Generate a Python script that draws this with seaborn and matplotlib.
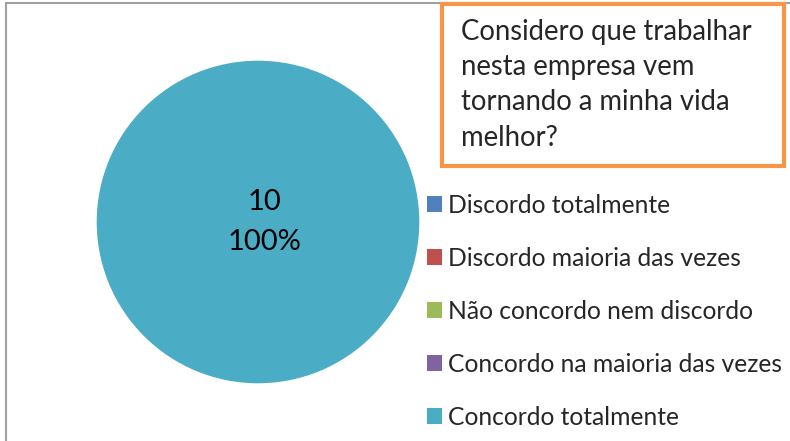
import matplotlib
matplotlib.use('Agg')
import matplotlib.pyplot as plt
import matplotlib.patches as mpatches
import seaborn as sns

# dados da pergunta
categorias = ['Discordo totalmente', 'Discordo maioria das vezes', 'Não concordo nem discordo',
              'Concordo na maioria das vezes', 'Concordo totalmente']
respostas = [0, 0, 0, 0, 10]
cores = ['#4F81BD', '#C0504D', '#9BBB59', '#8064A2', '#4BACC6']
titulo = 'Considero que trabalhar\nnesta empresa vem\ntornando a minha vida\nmelhor?'

sns.set_style('white')
plt.rcParams['font.family'] = ['Lato', 'DejaVu Sans']

W, H = 790, 441
fig = plt.figure(figsize=(W / 100, H / 100), dpi=100)


def px(x, y):
    # pixel (topo-esquerda) -> fração da figura
    return x / W, 1 - y / H


# borda cinza da área do gráfico
borda = mpatches.Rectangle(px(6, 460), (800 - 6) / W, (460 - 3) / H, transform=fig.transFigure,
                           fill=False, edgecolor='#A0A0A0', linewidth=1.5)
fig.patches.append(borda)

# pizza
cx, cy, r = 258, 222, 162
x0, y0 = px(cx - r, cy + r)
ax = fig.add_axes([x0, y0, 2 * r / W, 2 * r / H])
total = sum(respostas)


def rotulo(pct):
    n = int(round(pct * total / 100))
    return f'{n}\n{pct:.0f}%' if n > 0 else ''


wedges, _, autotexts = ax.pie(respostas, colors=cores, autopct=rotulo, startangle=180,
                              pctdistance=0.04, radius=1,
                              textprops={'fontsize': 21, 'color': 'black', 'linespacing': 1.62})
ax.set_xlim(-1, 1)
ax.set_ylim(-1, 1)
ax.set_aspect('auto')
ax.axis('off')

# legenda
handles = [mpatches.Patch(facecolor=c, edgecolor='none') for c in cores]
fig.legend(handles, categorias, loc='upper left', bbox_to_anchor=px(427, 194), frameon=False,
           fontsize=17.7, handlelength=0.62, handleheight=0.62, handletextpad=0.22,
           labelspacing=1.22, borderaxespad=0, borderpad=0)

# caixa do título
caixa = mpatches.Rectangle(px(442, 166), (784 - 442) / W, (166 - 4) / H, transform=fig.transFigure,
                           facecolor='white', edgecolor='#F79646', linewidth=3)
fig.patches.append(caixa)
tx, ty = px(461, 19)
fig.text(tx, ty, titulo, fontsize=19.8, va='top', ha='left', linespacing=1.44)

fig.savefig('out.png', dpi=100)
